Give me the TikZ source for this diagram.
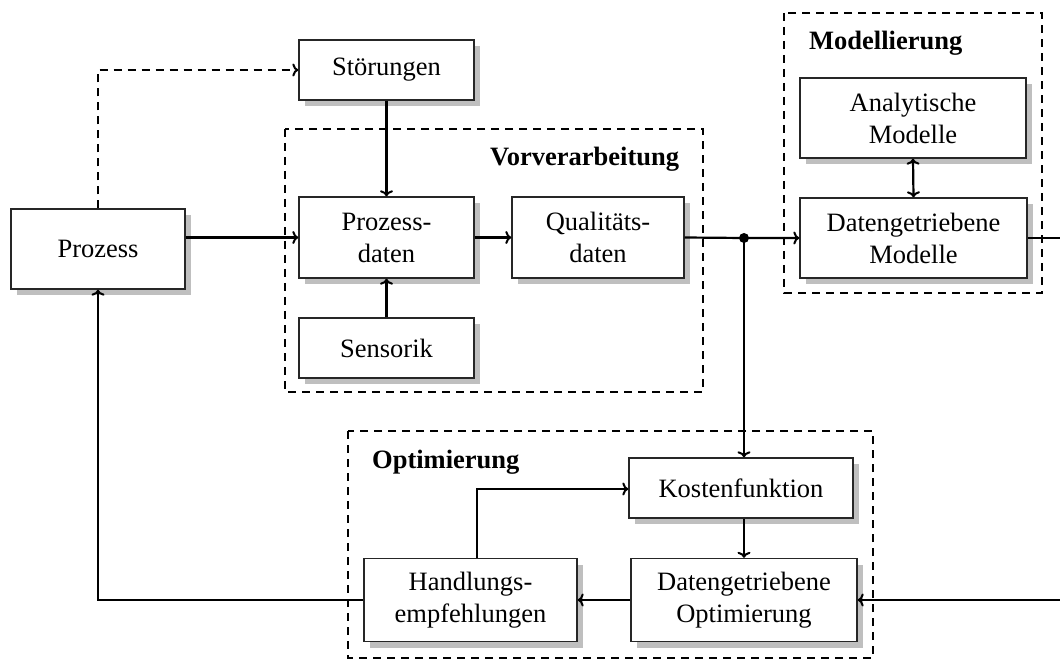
\documentclass[tikz,border=0pt]{standalone}
\usepackage{fontspec}
\setmainfont{Liberation Serif}
\usetikzlibrary{shadows,calc,arrows.meta}

\tikzset{
  blk/.style={draw=black!85, line width=1.4pt, fill=white, inner sep=0pt,
    align=center, font=\fontsize{26.5}{32}\selectfont,
    drop shadow={shadow xshift=6pt, shadow yshift=-6pt, fill=black!25, opacity=1}},
  grp/.style={draw=black, dashed, dash pattern=on 8pt off 6pt, line width=2pt},
  grptitle/.style={font=\fontsize{26.5}{32}\selectfont\bfseries, inner sep=0pt, anchor=base west},
  tip/.tip={To[length=6pt, width=13pt, line width=2pt]},
  conn/.style={line width=2.2pt, -tip},
  dconn/.style={line width=2.2pt, -tip, dashed, dash pattern=on 8pt off 6pt},
}

\begin{document}
\begin{tikzpicture}[x=1pt,y=-1pt]
\useasboundingbox (0,0) rectangle (1060,660);

% group frames
\draw[grp] (285,129) rectangle (703,392);
\draw[grp] (784,13) rectangle (1042,293);
\draw[grp] (348,431) rectangle (873,658);
\node[grptitle] at (490,166) {Vorverarbeitung};
\node[grptitle] at (809,50) {Modellierung};
\node[grptitle] at (372,468) {Optimierung};

% blocks
\node[blk, minimum width=174pt, minimum height=80pt] (proz) at (98,249) {Prozess};
\node[blk, minimum width=175pt, minimum height=60pt] (stoer) at (386.5,70) {Störungen};
\node[blk, minimum width=175pt, minimum height=81pt] (pdat) at (386.5,237.5) {Prozess-\\daten};
\node[blk, minimum width=172pt, minimum height=81pt] (qdat) at (598,237.5) {Qualitäts-\\daten};
\node[blk, minimum width=175pt, minimum height=60pt] (sens) at (386.5,348) {Sensorik};
\node[blk, minimum width=226pt, minimum height=80pt] (anmod) at (913,118) {Analytische\\Modelle};
\node[blk, minimum width=227pt, minimum height=80pt] (dmod) at (913.5,238) {Datengetriebene\\Modelle};
\node[blk, minimum width=224pt, minimum height=60pt] (kost) at (741,488) {Kostenfunktion};
\node[blk, minimum width=226pt, minimum height=83pt] (dopt) at (744,600) {Datengetriebene\\Optimierung};
\node[blk, minimum width=213pt, minimum height=83pt] (hand) at (470.5,600) {Handlungs-\\empfehlungen};

% junction and helper points
\coordinate (j) at (744,238);
\coordinate (ra) at (1075,238);
\coordinate (rb) at (1075,600);
\coordinate (hk) at (477,489);

% connectors
\draw[dconn] (proz.north) -- (proz.north |- stoer.west) -- (stoer.west);
\draw[conn] (proz.east |- pdat.west) -- (pdat.west);
\draw[conn] (stoer.south) -- (pdat.north);
\draw[conn] (sens.north) -- (pdat.south);
\draw[conn] (pdat.east) -- (qdat.west);
\draw[conn] (qdat.east) -- (j) -- (dmod.west);
\fill (j) circle (5pt);
\draw[conn] (j) -- (j |- kost.north);
\draw[conn, tip-tip] (anmod.south) -- (dmod.north);
\draw[conn] (dmod.east) -- (ra) -- (rb) -- (dopt.east);
\draw[conn] (j |- kost.south) -- (j |- dopt.north);
\draw[conn] (dopt.west) -- (hand.east);
\draw[conn] (hand.north -| hk) -- (hk) -- (kost.west |- hk);
\draw[conn] (hand.west) -- (proz.south |- hand.west) -- (proz.south);
\end{tikzpicture}
\end{document}
